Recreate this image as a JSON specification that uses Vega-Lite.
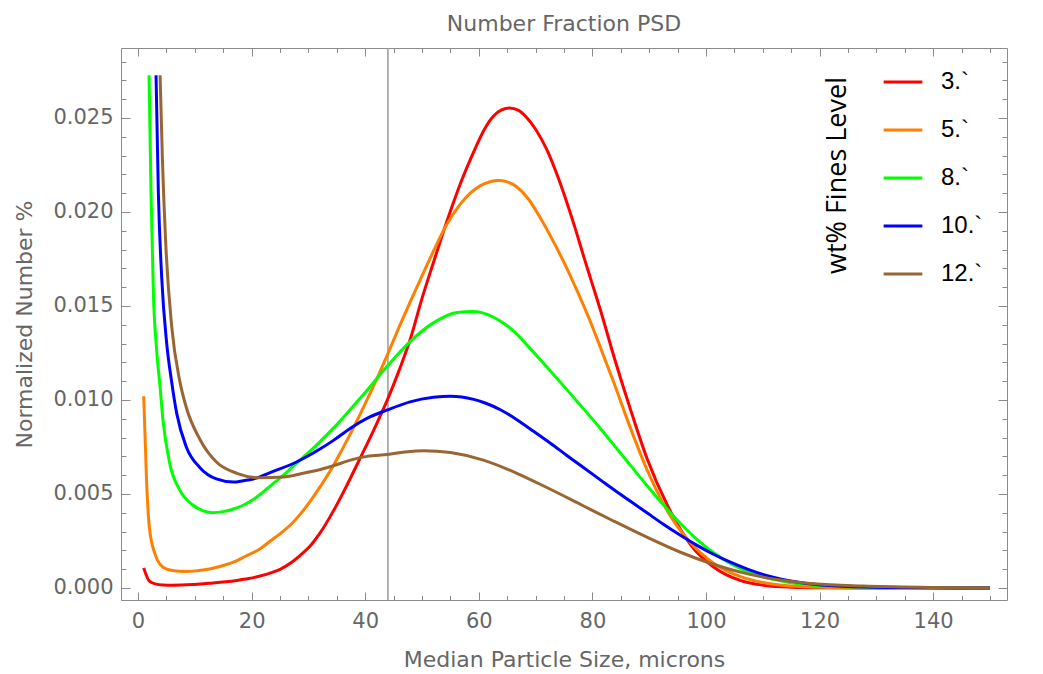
{
  "$schema": "https://vega.github.io/schema/vega-lite/v6.json",
  "width": 886,
  "height": 552,
  "autosize": {"type": "none"},
  "padding": {"left": 121, "top": 48, "right": 36, "bottom": 74},
  "background": "white",
  "title": {"text": "Number Fraction PSD", "fontSize": 22, "fontWeight": "normal", "color": "#666666", "font": "DejaVu Sans", "anchor": "middle", "baseline": "bottom", "offset": 11, "dy": 22},
  "config": {
    "view": {"stroke": "#8c8c8c", "strokeWidth": 1},
    "font": "DejaVu Sans",
    "axis": {"grid": false, "domain": false, "tickColor": "#8c8c8c", "tickWidth": 1, "labelColor": "#666666", "titleColor": "#666666", "titleFontWeight": "normal", "labelFont": "DejaVu Sans", "titleFont": "DejaVu Sans"}
  },
  "datasets": {
    "vline": [{"x": 44}],
    "psd": [
      {"size": 1, "value": 0.00107, "fines": "3.`"},
      {"size": 2, "value": 0.00036, "fines": "3.`"},
      {"size": 3, "value": 0.00022, "fines": "3.`"},
      {"size": 4.4, "value": 0.00016, "fines": "3.`"},
      {"size": 6, "value": 0.00015, "fines": "3.`"},
      {"size": 8.5, "value": 0.00017, "fines": "3.`"},
      {"size": 11, "value": 0.00021, "fines": "3.`"},
      {"size": 13.2, "value": 0.00027, "fines": "3.`"},
      {"size": 15.5, "value": 0.00033, "fines": "3.`"},
      {"size": 17.4, "value": 0.0004, "fines": "3.`"},
      {"size": 19.5, "value": 0.0005, "fines": "3.`"},
      {"size": 21.5, "value": 0.00064, "fines": "3.`"},
      {"size": 23.5, "value": 0.00082, "fines": "3.`"},
      {"size": 25, "value": 0.00099, "fines": "3.`"},
      {"size": 27, "value": 0.00135, "fines": "3.`"},
      {"size": 28.5, "value": 0.00172, "fines": "3.`"},
      {"size": 30.5, "value": 0.0023, "fines": "3.`"},
      {"size": 32, "value": 0.0029, "fines": "3.`"},
      {"size": 34.4, "value": 0.0041, "fines": "3.`"},
      {"size": 36.5, "value": 0.0053, "fines": "3.`"},
      {"size": 39.1, "value": 0.0069, "fines": "3.`"},
      {"size": 41.5, "value": 0.0084, "fines": "3.`"},
      {"size": 43.9, "value": 0.01, "fines": "3.`"},
      {"size": 46, "value": 0.0116, "fines": "3.`"},
      {"size": 47.9, "value": 0.0132, "fines": "3.`"},
      {"size": 50, "value": 0.0154, "fines": "3.`"},
      {"size": 52, "value": 0.0173, "fines": "3.`"},
      {"size": 53.6, "value": 0.0188, "fines": "3.`"},
      {"size": 55.3, "value": 0.0203, "fines": "3.`"},
      {"size": 57, "value": 0.0217, "fines": "3.`"},
      {"size": 59.1, "value": 0.0232, "fines": "3.`"},
      {"size": 61, "value": 0.0244, "fines": "3.`"},
      {"size": 62.6, "value": 0.0251, "fines": "3.`"},
      {"size": 64, "value": 0.02543, "fines": "3.`"},
      {"size": 65.4, "value": 0.02553, "fines": "3.`"},
      {"size": 67, "value": 0.0254, "fines": "3.`"},
      {"size": 68.5, "value": 0.025, "fines": "3.`"},
      {"size": 70, "value": 0.0244, "fines": "3.`"},
      {"size": 72, "value": 0.0233, "fines": "3.`"},
      {"size": 74, "value": 0.0218, "fines": "3.`"},
      {"size": 75.5, "value": 0.0205, "fines": "3.`"},
      {"size": 77, "value": 0.0191, "fines": "3.`"},
      {"size": 78.5, "value": 0.0176, "fines": "3.`"},
      {"size": 80, "value": 0.01615, "fines": "3.`"},
      {"size": 81.4, "value": 0.0148, "fines": "3.`"},
      {"size": 83.8, "value": 0.0123, "fines": "3.`"},
      {"size": 86.7, "value": 0.0095, "fines": "3.`"},
      {"size": 89.6, "value": 0.0069, "fines": "3.`"},
      {"size": 93.2, "value": 0.0044, "fines": "3.`"},
      {"size": 97.3, "value": 0.0023, "fines": "3.`"},
      {"size": 101.4, "value": 0.0011, "fines": "3.`"},
      {"size": 106, "value": 0.0004, "fines": "3.`"},
      {"size": 110.8, "value": 0.00012, "fines": "3.`"},
      {"size": 115, "value": 0.00004, "fines": "3.`"},
      {"size": 120, "value": 0.00001, "fines": "3.`"},
      {"size": 130, "value": 0, "fines": "3.`"},
      {"size": 140, "value": 0, "fines": "3.`"},
      {"size": 150, "value": 0, "fines": "3.`"},

      {"size": 1, "value": 0.0102, "fines": "5.`"},
      {"size": 1.5, "value": 0.0057, "fines": "5.`"},
      {"size": 2, "value": 0.0032, "fines": "5.`"},
      {"size": 3, "value": 0.0018, "fines": "5.`"},
      {"size": 4.4, "value": 0.0011, "fines": "5.`"},
      {"size": 6, "value": 0.00093, "fines": "5.`"},
      {"size": 8.5, "value": 0.00087, "fines": "5.`"},
      {"size": 10.5, "value": 0.00092, "fines": "5.`"},
      {"size": 12.6, "value": 0.00101, "fines": "5.`"},
      {"size": 14.7, "value": 0.00117, "fines": "5.`"},
      {"size": 16.8, "value": 0.00137, "fines": "5.`"},
      {"size": 19, "value": 0.0017, "fines": "5.`"},
      {"size": 21.5, "value": 0.00208, "fines": "5.`"},
      {"size": 23.3, "value": 0.0025, "fines": "5.`"},
      {"size": 25, "value": 0.00288, "fines": "5.`"},
      {"size": 27, "value": 0.0034, "fines": "5.`"},
      {"size": 28.5, "value": 0.0039, "fines": "5.`"},
      {"size": 30.3, "value": 0.0046, "fines": "5.`"},
      {"size": 32.1, "value": 0.0054, "fines": "5.`"},
      {"size": 34, "value": 0.0063, "fines": "5.`"},
      {"size": 36, "value": 0.0074, "fines": "5.`"},
      {"size": 37.9, "value": 0.0085, "fines": "5.`"},
      {"size": 40, "value": 0.0098, "fines": "5.`"},
      {"size": 42, "value": 0.0111, "fines": "5.`"},
      {"size": 43.9, "value": 0.0124, "fines": "5.`"},
      {"size": 46, "value": 0.0139, "fines": "5.`"},
      {"size": 47.9, "value": 0.0152, "fines": "5.`"},
      {"size": 50, "value": 0.0166, "fines": "5.`"},
      {"size": 52, "value": 0.0179, "fines": "5.`"},
      {"size": 54.3, "value": 0.0193, "fines": "5.`"},
      {"size": 56.7, "value": 0.0204, "fines": "5.`"},
      {"size": 58.5, "value": 0.021, "fines": "5.`"},
      {"size": 60.3, "value": 0.0214, "fines": "5.`"},
      {"size": 62, "value": 0.02161, "fines": "5.`"},
      {"size": 63.4, "value": 0.02167, "fines": "5.`"},
      {"size": 65, "value": 0.0216, "fines": "5.`"},
      {"size": 66.7, "value": 0.02133, "fines": "5.`"},
      {"size": 68.7, "value": 0.0207, "fines": "5.`"},
      {"size": 70.8, "value": 0.0197, "fines": "5.`"},
      {"size": 73, "value": 0.0185, "fines": "5.`"},
      {"size": 75.5, "value": 0.017, "fines": "5.`"},
      {"size": 77.9, "value": 0.0154, "fines": "5.`"},
      {"size": 79.6, "value": 0.0142, "fines": "5.`"},
      {"size": 81.4, "value": 0.0128, "fines": "5.`"},
      {"size": 83.8, "value": 0.0109, "fines": "5.`"},
      {"size": 86.7, "value": 0.0085, "fines": "5.`"},
      {"size": 89.6, "value": 0.0063, "fines": "5.`"},
      {"size": 93.2, "value": 0.0041, "fines": "5.`"},
      {"size": 97.3, "value": 0.0024, "fines": "5.`"},
      {"size": 101.4, "value": 0.0013, "fines": "5.`"},
      {"size": 106.1, "value": 0.0006, "fines": "5.`"},
      {"size": 110.8, "value": 0.00025, "fines": "5.`"},
      {"size": 115, "value": 0.0001, "fines": "5.`"},
      {"size": 120, "value": 0.00004, "fines": "5.`"},
      {"size": 130, "value": 0.00001, "fines": "5.`"},
      {"size": 140, "value": 0, "fines": "5.`"},
      {"size": 150, "value": 0, "fines": "5.`"},

      {"size": 1.94, "value": 0.02727, "fines": "8.`"},
      {"size": 2.29, "value": 0.021, "fines": "8.`"},
      {"size": 2.7, "value": 0.0157, "fines": "8.`"},
      {"size": 3.29, "value": 0.0126, "fines": "8.`"},
      {"size": 3.85, "value": 0.0108, "fines": "8.`"},
      {"size": 4.4, "value": 0.0089, "fines": "8.`"},
      {"size": 5.6, "value": 0.0066, "fines": "8.`"},
      {"size": 7.35, "value": 0.0052, "fines": "8.`"},
      {"size": 9.7, "value": 0.0044, "fines": "8.`"},
      {"size": 11.5, "value": 0.0041, "fines": "8.`"},
      {"size": 13.2, "value": 0.004, "fines": "8.`"},
      {"size": 15, "value": 0.00406, "fines": "8.`"},
      {"size": 16.8, "value": 0.0042, "fines": "8.`"},
      {"size": 18.5, "value": 0.0044, "fines": "8.`"},
      {"size": 20.3, "value": 0.0047, "fines": "8.`"},
      {"size": 22, "value": 0.0051, "fines": "8.`"},
      {"size": 23.8, "value": 0.00555, "fines": "8.`"},
      {"size": 25.6, "value": 0.006, "fines": "8.`"},
      {"size": 27.4, "value": 0.0065, "fines": "8.`"},
      {"size": 30, "value": 0.0072, "fines": "8.`"},
      {"size": 32.1, "value": 0.0078, "fines": "8.`"},
      {"size": 34.4, "value": 0.0085, "fines": "8.`"},
      {"size": 37.4, "value": 0.0095, "fines": "8.`"},
      {"size": 40.3, "value": 0.0105, "fines": "8.`"},
      {"size": 43.9, "value": 0.0118, "fines": "8.`"},
      {"size": 47.9, "value": 0.0131, "fines": "8.`"},
      {"size": 52, "value": 0.0141, "fines": "8.`"},
      {"size": 56.2, "value": 0.01465, "fines": "8.`"},
      {"size": 58.9, "value": 0.0147, "fines": "8.`"},
      {"size": 62.6, "value": 0.0144, "fines": "8.`"},
      {"size": 64.5, "value": 0.01405, "fines": "8.`"},
      {"size": 66.7, "value": 0.0135, "fines": "8.`"},
      {"size": 68.7, "value": 0.01285, "fines": "8.`"},
      {"size": 70.8, "value": 0.01215, "fines": "8.`"},
      {"size": 75.5, "value": 0.01055, "fines": "8.`"},
      {"size": 78, "value": 0.00968, "fines": "8.`"},
      {"size": 81.4, "value": 0.00848, "fines": "8.`"},
      {"size": 83.8, "value": 0.0076, "fines": "8.`"},
      {"size": 86.7, "value": 0.00652, "fines": "8.`"},
      {"size": 89.6, "value": 0.00545, "fines": "8.`"},
      {"size": 92.5, "value": 0.00442, "fines": "8.`"},
      {"size": 95.5, "value": 0.00343, "fines": "8.`"},
      {"size": 98.5, "value": 0.00256, "fines": "8.`"},
      {"size": 101.4, "value": 0.00186, "fines": "8.`"},
      {"size": 104.3, "value": 0.0013, "fines": "8.`"},
      {"size": 107.3, "value": 0.00087, "fines": "8.`"},
      {"size": 110, "value": 0.0006, "fines": "8.`"},
      {"size": 113.1, "value": 0.00038, "fines": "8.`"},
      {"size": 116, "value": 0.00024, "fines": "8.`"},
      {"size": 119, "value": 0.00015, "fines": "8.`"},
      {"size": 125, "value": 0.00006, "fines": "8.`"},
      {"size": 135, "value": 0.00001, "fines": "8.`"},
      {"size": 150, "value": 0, "fines": "8.`"},

      {"size": 3.17, "value": 0.02727, "fines": "10.`"},
      {"size": 3.58, "value": 0.021, "fines": "10.`"},
      {"size": 4.17, "value": 0.0165, "fines": "10.`"},
      {"size": 5.05, "value": 0.013, "fines": "10.`"},
      {"size": 5.9, "value": 0.011, "fines": "10.`"},
      {"size": 6.8, "value": 0.0093, "fines": "10.`"},
      {"size": 8.5, "value": 0.0075, "fines": "10.`"},
      {"size": 10.9, "value": 0.0064, "fines": "10.`"},
      {"size": 13.8, "value": 0.0058, "fines": "10.`"},
      {"size": 16.8, "value": 0.00563, "fines": "10.`"},
      {"size": 18.5, "value": 0.0057, "fines": "10.`"},
      {"size": 20.3, "value": 0.0058, "fines": "10.`"},
      {"size": 23.8, "value": 0.0062, "fines": "10.`"},
      {"size": 27.9, "value": 0.0067, "fines": "10.`"},
      {"size": 32.1, "value": 0.0074, "fines": "10.`"},
      {"size": 34.4, "value": 0.00785, "fines": "10.`"},
      {"size": 37.4, "value": 0.0085, "fines": "10.`"},
      {"size": 40.3, "value": 0.00902, "fines": "10.`"},
      {"size": 43.9, "value": 0.00947, "fines": "10.`"},
      {"size": 47.9, "value": 0.0099, "fines": "10.`"},
      {"size": 52, "value": 0.01014, "fines": "10.`"},
      {"size": 55, "value": 0.0102, "fines": "10.`"},
      {"size": 57, "value": 0.01016, "fines": "10.`"},
      {"size": 59.1, "value": 0.01003, "fines": "10.`"},
      {"size": 61, "value": 0.00985, "fines": "10.`"},
      {"size": 63.8, "value": 0.00948, "fines": "10.`"},
      {"size": 66.7, "value": 0.00895, "fines": "10.`"},
      {"size": 69.7, "value": 0.00832, "fines": "10.`"},
      {"size": 72.6, "value": 0.0077, "fines": "10.`"},
      {"size": 75.5, "value": 0.00705, "fines": "10.`"},
      {"size": 78, "value": 0.0065, "fines": "10.`"},
      {"size": 81.4, "value": 0.00575, "fines": "10.`"},
      {"size": 83.8, "value": 0.00522, "fines": "10.`"},
      {"size": 86.7, "value": 0.00461, "fines": "10.`"},
      {"size": 89.6, "value": 0.004, "fines": "10.`"},
      {"size": 92.5, "value": 0.00339, "fines": "10.`"},
      {"size": 95.5, "value": 0.0028, "fines": "10.`"},
      {"size": 98.5, "value": 0.00225, "fines": "10.`"},
      {"size": 101.4, "value": 0.00178, "fines": "10.`"},
      {"size": 104.3, "value": 0.00137, "fines": "10.`"},
      {"size": 107.3, "value": 0.001, "fines": "10.`"},
      {"size": 110, "value": 0.00072, "fines": "10.`"},
      {"size": 113.1, "value": 0.00048, "fines": "10.`"},
      {"size": 116, "value": 0.00032, "fines": "10.`"},
      {"size": 119, "value": 0.0002, "fines": "10.`"},
      {"size": 125, "value": 0.00008, "fines": "10.`"},
      {"size": 135, "value": 0.00002, "fines": "10.`"},
      {"size": 150, "value": 0, "fines": "10.`"},

      {"size": 3.88, "value": 0.02727, "fines": "12.`"},
      {"size": 4.29, "value": 0.0228, "fines": "12.`"},
      {"size": 4.88, "value": 0.0183, "fines": "12.`"},
      {"size": 5.93, "value": 0.0139, "fines": "12.`"},
      {"size": 7.35, "value": 0.011, "fines": "12.`"},
      {"size": 8.5, "value": 0.0096, "fines": "12.`"},
      {"size": 10.9, "value": 0.0079, "fines": "12.`"},
      {"size": 13.8, "value": 0.0067, "fines": "12.`"},
      {"size": 17.4, "value": 0.0061, "fines": "12.`"},
      {"size": 21.5, "value": 0.00586, "fines": "12.`"},
      {"size": 25.6, "value": 0.0059, "fines": "12.`"},
      {"size": 29.1, "value": 0.0061, "fines": "12.`"},
      {"size": 32.1, "value": 0.0063, "fines": "12.`"},
      {"size": 34.4, "value": 0.0065, "fines": "12.`"},
      {"size": 37.4, "value": 0.0068, "fines": "12.`"},
      {"size": 40.3, "value": 0.007, "fines": "12.`"},
      {"size": 43.9, "value": 0.0071, "fines": "12.`"},
      {"size": 47, "value": 0.00723, "fines": "12.`"},
      {"size": 50.3, "value": 0.0073, "fines": "12.`"},
      {"size": 55, "value": 0.0072, "fines": "12.`"},
      {"size": 60.8, "value": 0.0068, "fines": "12.`"},
      {"size": 66.7, "value": 0.0061, "fines": "12.`"},
      {"size": 72.6, "value": 0.00525, "fines": "12.`"},
      {"size": 78.2, "value": 0.0044, "fines": "12.`"},
      {"size": 83.8, "value": 0.00355, "fines": "12.`"},
      {"size": 89.6, "value": 0.0027, "fines": "12.`"},
      {"size": 95.5, "value": 0.0019, "fines": "12.`"},
      {"size": 101.4, "value": 0.00125, "fines": "12.`"},
      {"size": 107.3, "value": 0.00075, "fines": "12.`"},
      {"size": 113.1, "value": 0.00042, "fines": "12.`"},
      {"size": 119, "value": 0.00022, "fines": "12.`"},
      {"size": 127.7, "value": 0.0001, "fines": "12.`"},
      {"size": 140, "value": 0.00003, "fines": "12.`"},
      {"size": 150, "value": 0, "fines": "12.`"}
    ]
  },
  "layer": [
    {
      "data": {"name": "vline"},
      "mark": {"type": "rule", "color": "#9a9a9a", "strokeWidth": 1.5},
      "encoding": {
        "x": {"field": "x", "type": "quantitative", "scale": {"domain": [-3, 153], "nice": false, "zero": false},
          "axis": {"orient": "bottom", "values": [0, 20, 40, 60, 80, 100, 120, 140], "labels": false, "ticks": true, "tickSize": -8, "title": null}}
      }
    },
    {
      "data": {"name": "psd"},
      "mark": {"type": "line", "strokeWidth": 3, "interpolate": "monotone"},
      "encoding": {
        "x": {"field": "size", "type": "quantitative", "scale": {"domain": [-3, 153], "nice": false, "zero": false},
          "axis": {"orient": "bottom", "values": [0, 20, 40, 60, 80, 100, 120, 140], "ticks": false, "labelFontSize": 21, "labelPadding": 10, "title": "Median Particle Size, microns", "titleFontSize": 22, "titlePadding": 18}},
        "y": {"field": "value", "type": "quantitative", "scale": {"domain": [-0.00064, 0.02872], "nice": false, "zero": false},
          "axis": {"orient": "left", "values": [0, 0.005, 0.01, 0.015, 0.02, 0.025], "format": ".3f", "ticks": false, "labelFontSize": 21, "labelPadding": 8, "title": "Normalized Number %", "titleFontSize": 22, "titlePadding": 16}},
        "color": {"field": "fines", "type": "nominal",
          "scale": {"domain": ["3.`", "5.`", "8.`", "10.`", "12.`"], "range": ["#FF0000", "#FF8000", "#00FF00", "#0000FF", "#996633"]},
          "legend": {"orient": "none", "legendX": 761, "legendY": 13, "title": null, "labelFont": "Liberation Sans", "labelFontSize": 24, "labelColor": "black", "labelOffset": 17, "symbolType": "stroke", "symbolSize": 1500, "symbolStrokeWidth": 3, "rowPadding": 15, "padding": 0}}
      }
    },
    {
      "data": {"name": "psd"},
      "mark": {"type": "point", "opacity": 0},
      "encoding": {
        "x": {"field": "size", "type": "quantitative", "scale": {"domain": [-3, 153], "nice": false, "zero": false},
          "axis": {"orient": "bottom", "values": [0, 5, 10, 15, 20, 25, 30, 35, 40, 45, 50, 55, 60, 65, 70, 75, 80, 85, 90, 95, 100, 105, 110, 115, 120, 125, 130, 135, 140, 145, 150], "labels": false, "tickSize": -4.5, "title": null}},
        "y": {"field": "value", "type": "quantitative", "scale": {"domain": [-0.00064, 0.02872], "nice": false, "zero": false},
          "axis": {"orient": "left", "values": [0, 0.005, 0.01, 0.015, 0.02, 0.025], "labels": false, "tickSize": -9, "title": null}}
      }
    },
    {
      "data": {"name": "psd"},
      "mark": {"type": "point", "opacity": 0},
      "encoding": {
        "x": {"field": "size", "type": "quantitative", "scale": {"domain": [-3, 153], "nice": false, "zero": false},
          "axis": {"orient": "top", "values": [0, 20, 40, 60, 80, 100, 120, 140], "labels": false, "tickSize": -8, "title": null}},
        "y": {"field": "value", "type": "quantitative", "scale": {"domain": [-0.00064, 0.02872], "nice": false, "zero": false},
          "axis": {"orient": "left", "values": [0, 0.001, 0.002, 0.003, 0.004, 0.005, 0.006, 0.007, 0.008, 0.009, 0.01, 0.011, 0.012, 0.013, 0.014, 0.015, 0.016, 0.017, 0.018, 0.019, 0.02, 0.021, 0.022, 0.023, 0.024, 0.025, 0.026, 0.027, 0.028], "labels": false, "tickSize": -5, "title": null}}
      }
    },
    {
      "data": {"name": "psd"},
      "mark": {"type": "point", "opacity": 0},
      "encoding": {
        "x": {"field": "size", "type": "quantitative", "scale": {"domain": [-3, 153], "nice": false, "zero": false},
          "axis": {"orient": "top", "values": [0, 5, 10, 15, 20, 25, 30, 35, 40, 45, 50, 55, 60, 65, 70, 75, 80, 85, 90, 95, 100, 105, 110, 115, 120, 125, 130, 135, 140, 145, 150], "labels": false, "tickSize": -4.5, "title": null}},
        "y": {"field": "value", "type": "quantitative", "scale": {"domain": [-0.00064, 0.02872], "nice": false, "zero": false},
          "axis": {"orient": "right", "values": [0, 0.005, 0.01, 0.015, 0.02, 0.025], "labels": false, "tickSize": -9, "title": null}}
      }
    },
    {
      "data": {"name": "psd"},
      "mark": {"type": "point", "opacity": 0},
      "encoding": {
        "x": {"field": "size", "type": "quantitative", "scale": {"domain": [-3, 153], "nice": false, "zero": false}, "axis": null},
        "y": {"field": "value", "type": "quantitative", "scale": {"domain": [-0.00064, 0.02872], "nice": false, "zero": false},
          "axis": {"orient": "right", "values": [0, 0.001, 0.002, 0.003, 0.004, 0.005, 0.006, 0.007, 0.008, 0.009, 0.01, 0.011, 0.012, 0.013, 0.014, 0.015, 0.016, 0.017, 0.018, 0.019, 0.02, 0.021, 0.022, 0.023, 0.024, 0.025, 0.026, 0.027, 0.028], "labels": false, "tickSize": -5,
            "title": "wt% Fines Level", "titleAngle": 270, "titleX": -170, "titleY": 127, "titleAlign": "center", "titleBaseline": "middle", "titleFont": "Open Sans", "titleFontSize": 27, "titleFontWeight": "normal", "titleColor": "black"}}
      }
    }
  ],
  "resolve": {"axis": {"x": "independent", "y": "independent"}}
}
